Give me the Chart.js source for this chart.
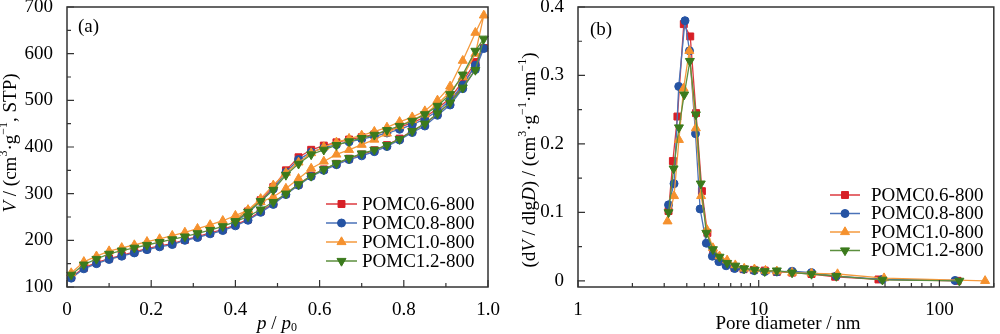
<!DOCTYPE html>
<html>
<head>
<meta charset="utf-8">
<script src="https://cdn.jsdelivr.net/npm/chart.js@4.4.0/dist/chart.umd.min.js"></script>
<style>
body{margin:0;background:#fff;}
.panel{position:absolute;top:0;width:500px;height:334px;}
</style>
</head>
<body>
<div class="panel" style="left:0"><canvas id="chartA" width="500" height="334"></canvas></div>
<div class="panel" style="left:500px"><canvas id="chartB" width="500" height="334"></canvas></div>
<script>
// sample names
var samples = ["POMC0.6-800", "POMC0.8-800", "POMC1.0-800", "POMC1.2-800"];

// (a) isotherms: relative pressure for adsorption / desorption branches
var pAds = [0.01,0.04,0.07,0.10,0.13,0.16,0.19,0.22,0.25,0.28,0.31,0.34,0.37,0.40,0.43,0.46,0.49,0.52,0.55,0.58,0.61,0.64,0.67,0.70,0.73,0.76,0.79,0.82,0.85,0.88,0.91,0.94,0.97,0.99];
var pDes = [0.97,0.94,0.91,0.88,0.85,0.82,0.79,0.76,0.73,0.70,0.67,0.64,0.61,0.58,0.55,0.52,0.49,0.46,0.43,0.40];

var vAds06 = [121,141,152,161,168,175,182,188,193,201,208,216,223,233,245,262,279,300,320,339,352,364,375,384,393,404,418,434,449,472,495,532,575,612];
var vDes06 = [582,540,505,482,464,452,442,434,427,421,416,410,403,394,378,350,314,286,262,242];
var vAds08 = [119,139,150,159,166,173,180,186,191,200,206,214,221,231,243,260,277,298,318,337,350,362,373,381,390,401,415,431,445,468,490,525,566,611];
var vDes08 = [575,533,500,477,460,448,438,430,423,417,411,405,398,389,373,346,310,283,259,239];
var vAds10 = [130,154,166,177,184,190,197,203,210,217,225,233,242,253,265,282,293,311,332,354,369,384,394,405,416,429,445,458,470,492,518,550,600,682];
var vDes10 = [645,585,530,500,477,464,454,442,433,425,418,410,400,387,367,345,318,289,265,246];
var vAds12 = [126,148,160,171,178,184,190,196,202,208,215,222,230,240,251,266,282,300,320,338,352,365,376,386,394,404,417,434,450,472,495,527,565,632];
var vDes12 = [606,555,513,488,470,456,445,436,426,419,412,404,394,384,364,340,308,284,261,241];

// (b) pore size distribution: diameter (nm) and dV/dlgD
var d06 = [3.17,3.35,3.55,3.85,4.18,4.5,4.85,5.2,5.6,6.05,6.6,7.35,8.25,9.4,10.8,12.6,15.3,19.6,26.5,46,126];
var psd06 = [0.102,0.175,0.240,0.375,0.357,0.245,0.131,0.070,0.040,0.030,0.025,0.019,0.017,0.016,0.015,0.013,0.012,0.010,0.006,0.002,0.000];
var d08 = [3.17,3.40,3.61,3.91,4.14,4.47,4.74,5.13,5.54,6.02,6.60,7.36,8.25,9.43,10.8,12.6,15.3,19.6,26.9,48.4,122];
var psd08 = [0.111,0.142,0.284,0.380,0.336,0.215,0.105,0.055,0.036,0.028,0.022,0.018,0.017,0.015,0.0135,0.013,0.014,0.012,0.007,0.002,0.0005];
var d10 = [3.13,3.40,3.62,3.84,4.13,4.49,4.80,5.16,5.58,6.07,6.69,7.42,8.31,9.47,10.9,12.6,15.3,19.6,27.3,49.4,179];
var psd10 = [0.087,0.124,0.206,0.281,0.336,0.223,0.124,0.075,0.048,0.036,0.030,0.023,0.018,0.017,0.015,0.014,0.012,0.011,0.010,0.004,0.000];
var d12 = [3.17,3.38,3.62,3.87,4.16,4.49,4.78,5.13,5.58,6.07,6.69,7.42,8.31,9.5,10.8,12.6,15.3,19.6,26.9,48.4,129];
var psd12 = [0.100,0.164,0.224,0.272,0.321,0.243,0.142,0.070,0.046,0.035,0.026,0.022,0.018,0.016,0.014,0.015,0.012,0.010,0.007,0.0015,0.000];

// axis ticks
var aMajorX = [0,0.2,0.4,0.6,0.8,1.0];
var aMinorX = [0.1,0.3,0.5,0.7,0.9];
var aMajorY = [100,200,300,400,500,600,700];
var aMinorY = [150,250,350,450,550,650];
var bMajorX = [1,10,100];
var bMinorX = [2,3,4,5,6,7,8,9,20,30,40,50,60,70,80,90,200];
var bMajorY = [0,0.1,0.2,0.3,0.4];
var bMinorY = [0.05,0.15,0.25,0.35];

var markColors = ["#d71f26", "#2553a3", "#f5912e", "#3b7a1c"];
var lineColors = ["#dd3a3f", "#4a72b8", "#f59a3e", "#5c8f3e"];
var markers = [
  {pointStyle:"rect", radius:4.9, rotation:0},
  {pointStyle:"circle", radius:4, rotation:0},
  {pointStyle:"triangle", radius:5.2, rotation:0},
  {pointStyle:"triangle", radius:5.2, rotation:180}
];

var FONT = '"Liberation Serif", "Times New Roman", serif';
Chart.defaults.font.family = FONT;
Chart.defaults.font.size = 19;
Chart.defaults.color = "#000";

function pairs(xs, ys){
  return xs.map(function(x, i){ return {x:x, y:ys[i]}; });
}

function makeDataset(idx, data){
  var m = markers[idx];
  return {
    label: samples[idx],
    data: data,
    showLine: true,
    borderColor: lineColors[idx],
    borderWidth: 1.3,
    backgroundColor: markColors[idx],
    pointBackgroundColor: markColors[idx],
    pointBorderColor: markColors[idx],
    pointBorderWidth: 1,
    pointStyle: m.pointStyle,
    pointRadius: m.radius,
    pointRotation: m.rotation,
    pointHoverRadius: m.radius,
    order: 3 - idx,
    clip: false
  };
}

function fontFor(s, size){
  var sz = (s.sup || s.sub) ? Math.round(size * 0.62) : size;
  return (s.i ? "italic " : "") + sz + "px " + FONT;
}

function drawRich(ctx, segs, cx, cy, rot, size){
  var widths = segs.map(function(s){ ctx.font = fontFor(s, size); return ctx.measureText(s.t).width; });
  var total = widths.reduce(function(a, b){ return a + b; }, 0);
  ctx.save();
  ctx.translate(cx, cy);
  ctx.rotate(rot);
  ctx.textBaseline = "middle";
  ctx.textAlign = "left";
  ctx.fillStyle = "#000";
  var x = -total / 2;
  segs.forEach(function(s, i){
    ctx.font = fontFor(s, size);
    var dy = s.sup ? -size * 0.36 : (s.sub ? size * 0.22 : 0);
    ctx.fillText(s.t, x, dy);
    x += widths[i];
  });
  ctx.restore();
}

//frame, inward ticks, titles and legend
var decor = {
  id: "decor",
  afterDraw: function(chart, args, o){
    var ctx = chart.ctx, a = chart.chartArea;
    var xs = chart.scales.x, ys = chart.scales.y;
    ctx.save();
    ctx.strokeStyle = "#333";
    ctx.lineWidth = 1.5;
    ctx.strokeRect(a.left, a.top, a.right - a.left, a.bottom - a.top);
    ctx.lineWidth = 1.2;
    ctx.beginPath();
    o.majorX.forEach(function(v){ var p = xs.getPixelForValue(v); ctx.moveTo(p, a.bottom); ctx.lineTo(p, a.bottom - 7); });
    o.minorX.forEach(function(v){ var p = xs.getPixelForValue(v); if(p > a.right) return; ctx.moveTo(p, a.bottom); ctx.lineTo(p, a.bottom - 4); });
    o.majorY.forEach(function(v){ var p = ys.getPixelForValue(v); ctx.moveTo(a.left, p); ctx.lineTo(a.left + 7, p); });
    o.minorY.forEach(function(v){ var p = ys.getPixelForValue(v); ctx.moveTo(a.left, p); ctx.lineTo(a.left + 4, p); });
    ctx.stroke();

    //panel label
    ctx.font = "19px " + FONT;
    ctx.fillStyle = "#000";
    ctx.textBaseline = "middle";
    ctx.fillText(o.panel[0], o.panel[1], o.panel[2]);

    //axis titles
    drawRich(ctx, o.xTitle, o.xTitlePos[0], o.xTitlePos[1], 0, 19);
    drawRich(ctx, o.yTitle, o.yTitlePos[0], o.yTitlePos[1], -Math.PI / 2, 19);

    //legend
    chart.data.datasets.forEach(function(ds, i){
      var y = o.legend.y + i * o.legend.step;
      ctx.strokeStyle = ds.borderColor;
      ctx.lineWidth = 1.5;
      ctx.beginPath();
      ctx.moveTo(o.legend.x0, y);
      ctx.lineTo(o.legend.x1, y);
      ctx.stroke();
      ctx.fillStyle = ds.pointBackgroundColor;
      ctx.strokeStyle = ds.pointBorderColor;
      ctx.lineWidth = 1;
      Chart.helpers.drawPoint(ctx, {pointStyle: ds.pointStyle, radius: ds.pointRadius, rotation: ds.pointRotation, borderWidth: 1}, (o.legend.x0 + o.legend.x1) / 2, y);
      ctx.fillStyle = "#000";
      ctx.font = "19px " + FONT;
      ctx.textBaseline = "middle";
      ctx.fillText(ds.label, o.legend.tx, y + 1);
    });
    ctx.restore();
  }
};

function fixX(h){ return function(s){ s.height = h; s.paddingLeft = 0; s.paddingRight = 0; }; }
function fixY(w){ return function(s){ s.width = w; s.paddingTop = 0; s.paddingBottom = 0; }; }

// (a) N2 isotherms
new Chart(document.getElementById("chartA"), {
  type: "scatter",
  data: {
    datasets: [
      makeDataset(0, pairs(pAds, vAds06).concat(pairs(pDes, vDes06))),
      makeDataset(1, pairs(pAds, vAds08).concat(pairs(pDes, vDes08))),
      makeDataset(2, pairs(pAds, vAds10).concat(pairs(pDes, vDes10))),
      makeDataset(3, pairs(pAds, vAds12).concat(pairs(pDes, vDes12)))
    ]
  },
  options: {
    responsive: false,
    animation: false,
    layout: {padding: {top: 7, right: 12, left: 0, bottom: 0}},
    plugins: {
      legend: {display: false},
      tooltip: {enabled: false},
      decor: {
        majorX: aMajorX, minorX: aMinorX, majorY: aMajorY, minorY: aMinorY,
        panel: ["(a)", 78, 27],
        xTitle: [{t:"p", i:true}, {t:" / "}, {t:"p", i:true}, {t:"0", sub:true}],
        xTitlePos: [277, 324],
        yTitle: [{t:"V", i:true}, {t:" / (cm"}, {t:"3", sup:true}, {t:"·g"}, {t:"−1", sup:true}, {t:", STP)"}],
        yTitlePos: [11, 143],
        legend: {x0: 326, x1: 357, tx: 362, y: 204, step: 19}
      }
    },
    scales: {
      x: {
        type: "linear", min: 0, max: 1,
        grid: {display: false}, border: {display: false},
        afterBuildTicks: function(s){ s.ticks = aMajorX.map(function(v){ return {value: v}; }); },
        ticks: {padding: 4, maxRotation: 0, callback: function(v){ return v === 0 ? "0" : v.toFixed(1); }},
        afterFit: fixX(47)
      },
      y: {
        type: "linear", min: 100, max: 700,
        grid: {display: false}, border: {display: false},
        afterBuildTicks: function(s){ s.ticks = aMajorY.map(function(v){ return {value: v}; }); },
        ticks: {padding: 6},
        afterFit: fixY(67)
      }
    }
  },
  plugins: [decor]
});

// (b) pore size distribution
new Chart(document.getElementById("chartB"), {
  type: "scatter",
  data: {
    datasets: [
      makeDataset(0, pairs(d06, psd06)),
      makeDataset(1, pairs(d08, psd08)),
      makeDataset(2, pairs(d10, psd10)),
      makeDataset(3, pairs(d12, psd12))
    ]
  },
  options: {
    responsive: false,
    animation: false,
    layout: {padding: {top: 7, right: 1, left: 0, bottom: 0}},
    plugins: {
      legend: {display: false},
      tooltip: {enabled: false},
      decor: {
        majorX: bMajorX, minorX: bMinorX, majorY: bMajorY, minorY: bMinorY,
        panel: ["(b)", 90, 30],
        xTitle: [{t:"Pore diameter / nm"}],
        xTitlePos: [288, 324],
        yTitle: [{t:"(d"}, {t:"V", i:true}, {t:" / dlg"}, {t:"D", i:true}, {t:") / (cm"}, {t:"3", sup:true}, {t:"·g"}, {t:"−1", sup:true}, {t:"·nm"}, {t:"−1", sup:true}, {t:")"}],
        yTitlePos: [30, 160],
        legend: {x0: 330, x1: 360, tx: 371, y: 195, step: 18.5}
      }
    },
    scales: {
      x: {
        type: "logarithmic", min: 1, max: 200,
        grid: {display: false}, border: {display: false},
        afterBuildTicks: function(s){ s.ticks = bMajorX.map(function(v){ return {value: v}; }); },
        ticks: {padding: 4, maxRotation: 0, autoSkip: false, callback: function(v){ return String(v); }},
        afterFit: fixX(47)
      },
      y: {
        type: "linear", min: -0.009, max: 0.4,
        grid: {display: false}, border: {display: false},
        afterBuildTicks: function(s){ s.ticks = bMajorY.map(function(v){ return {value: v}; }); },
        ticks: {padding: 6, callback: function(v){ return v === 0 ? "0" : v.toFixed(1); }},
        afterFit: fixY(78)
      }
    }
  },
  plugins: [decor]
});
</script>
</body>
</html>
